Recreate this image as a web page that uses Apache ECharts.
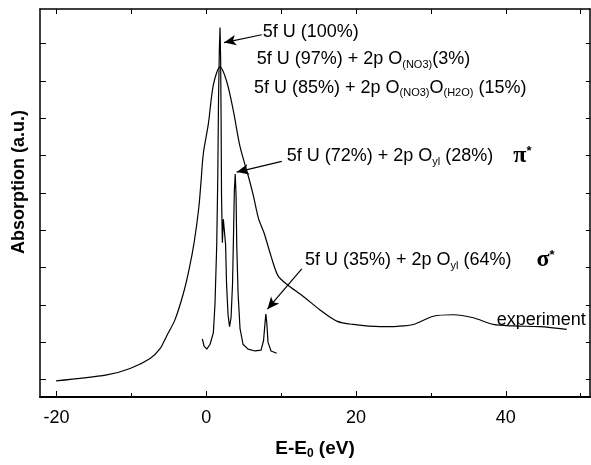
<!DOCTYPE html>
<html>
<head>
<meta charset="utf-8">
<script src="https://cdn.jsdelivr.net/npm/echarts@6/dist/echarts.min.js"></script>
<style>
html,body{margin:0;padding:0;background:#fff;}
#c{width:591px;height:465px;}
</style>
</head>
<body>
<div id="c"></div>
<script>
// ---- data ----
const expX = [-20.05, -13.28, -10.17, -7.50, -6.17, -5.27, -4.17, -3.06, -2.30, -1.60, -1.00, -0.70, -0.39, 0.28, 0.95, 1.84, 2.74, 3.62, 4.51, 5.62, 6.29, 6.96, 7.72, 8.65, 9.59, 10.79, 12.96, 15.19, 17.42, 19.64, 23.20, 25.50, 27.65, 30.32, 32.99, 35.66, 38.33, 41.00, 44.57, 48.13];
const expY = [-0.03, 0.13, 0.30, 0.57, 0.83, 1.18, 1.61, 2.31, 2.95, 3.70, 4.60, 5.30, 6.06, 6.85, 7.90, 8.38, 7.98, 7.20, 6.24, 5.45, 4.93, 4.33, 3.93, 3.31, 2.78, 2.55, 2.23, 1.87, 1.57, 1.48, 1.42, 1.43, 1.48, 1.70, 1.74, 1.66, 1.48, 1.44, 1.42, 1.35];

const thX = [-0.52, -0.29, 0.07, 0.51, 0.95, 1.17, 1.40, 1.54, 1.64, 1.75, 1.84, 1.92, 1.98, 2.04, 2.15, 2.28, 2.48, 2.58, 2.71, 2.91, 3.11, 3.31, 3.51, 3.64, 3.75, 3.87, 3.98, 4.07, 4.25, 4.51, 4.91, 5.58, 6.51, 7.32, 7.65, 7.85, 7.96, 8.08, 8.25, 8.65, 9.41];
const thY = [1.09, 0.90, 0.82, 0.95, 1.26, 2.05, 3.62, 5.45, 7.55, 8.86, 9.43, 8.59, 7.02, 4.93, 3.67, 4.30, 4.30, 3.62, 2.57, 1.74, 1.42, 1.66, 2.57, 3.88, 5.06, 5.51, 4.93, 3.62, 2.31, 1.37, 0.95, 0.82, 0.77, 0.79, 1.05, 1.53, 1.76, 1.53, 1.00, 0.77, 0.71];

const xMajorTicks = [-20, 0, 20, 40];
const xMinorTicks = [-10, 10, 30, 50];
const yTicks = [0, 1, 2, 3, 4, 5, 6, 7, 8, 9];

// arrows: [from, to] in data units
const arrowFrom = [[7.41, 9.24], [10.08, 5.85], [12.75, 2.97]];
const arrowTo   = [[2.38, 9.03], [4.07, 5.56], [8.16, 1.89]];

// ---- chart ----
const FONT = "'Liberation Sans', Arial, sans-serif";
const X_MIN = -22.2, X_MAX = 51.24, Y_MIN = -0.463, Y_MAX = 9.929;

const chart = echarts.init(document.getElementById('c'), null, {renderer: 'canvas'});

const pairs = (xs, ys) => xs.map((x, i) => [x, ys[i]]);

const baseRich = {
  a: {fontSize: 18, fontFamily: FONT, color: '#000', lineHeight: 22},
  s: {fontSize: 11, fontFamily: FONT, color: '#000', verticalAlign: 'bottom', lineHeight: 10},
  g: {fontSize: 24, fontFamily: "'Liberation Serif', serif", fontWeight: 'bold', color: '#000', lineHeight: 22},
  p: {fontSize: 13, fontFamily: FONT, fontWeight: 'bold', color: '#000', verticalAlign: 'top', lineHeight: 8}
};

function txt(x, y, text) {
  return {
    type: 'text', x: x, y: y, silent: true,
    style: {text: text, rich: baseRich, align: 'left', verticalAlign: 'middle', fill: '#000', font: '18px ' + FONT}
  };
}

const plainAxis = {
  type: 'value', min: X_MIN, max: X_MAX,
  splitLine: {show: false}, axisLabel: {show: false}
};

chart.setOption({
  animation: false,
  backgroundColor: '#fff',
  grid: {left: 40, right: 1, top: 9, bottom: 59, containLabel: false},
  xAxis: [
    {
      type: 'value', position: 'bottom', min: X_MIN, max: X_MAX,
      axisLine: {show: true, onZero: false, lineStyle: {color: '#000', width: 2}},
      axisTick: {show: true, inside: true, length: 6, customValues: xMajorTicks, lineStyle: {color: '#000', width: 1}},
      axisLabel: {show: true, customValues: xMajorTicks, color: '#000', fontSize: 18, fontFamily: FONT, margin: 12},
      splitLine: {show: false},
      name: '{b|E-E}{s|0}{b| (eV)}',
      nameLocation: 'middle', nameGap: 41,
      nameTextStyle: {
        rich: {
          b: {fontSize: 19, fontWeight: 'bold', fontFamily: FONT, color: '#000', lineHeight: 22},
          s: {fontSize: 12, fontWeight: 'bold', fontFamily: FONT, color: '#000', verticalAlign: 'bottom', lineHeight: 10}
        }
      }
    },
    Object.assign({}, plainAxis, {
      position: 'bottom',
      axisLine: {show: false, onZero: false},
      axisTick: {show: true, inside: true, length: 4, customValues: xMinorTicks, lineStyle: {color: '#000', width: 1}}
    }),
    Object.assign({}, plainAxis, {
      position: 'top',
      axisLine: {show: true, onZero: false, lineStyle: {color: '#000', width: 1.5}},
      axisTick: {show: true, inside: true, length: 5, customValues: xMajorTicks.concat(xMinorTicks), lineStyle: {color: '#000', width: 1}}
    })
  ],
  yAxis: [
    {
      type: 'value', position: 'left', min: Y_MIN, max: Y_MAX,
      axisLine: {show: true, onZero: false, lineStyle: {color: '#000', width: 1.5}},
      axisTick: {show: true, inside: true, length: 6, customValues: yTicks, lineStyle: {color: '#000', width: 1}},
      axisLabel: {show: false}, splitLine: {show: false}
    },
    {
      type: 'value', position: 'right', min: Y_MIN, max: Y_MAX,
      axisLine: {show: true, onZero: false, lineStyle: {color: '#000', width: 1.5}},
      axisTick: {show: true, inside: true, length: 4, customValues: yTicks, lineStyle: {color: '#000', width: 1}},
      axisLabel: {show: false}, splitLine: {show: false}
    }
  ],
  series: [
    {
      name: 'experiment', type: 'line', xAxisIndex: 0, yAxisIndex: 0,
      data: pairs(expX, expY), showSymbol: false, smooth: 0.3,
      lineStyle: {color: '#000', width: 1.2}, silent: true
    },
    {
      name: 'theory', type: 'line', xAxisIndex: 0, yAxisIndex: 0,
      data: pairs(thX, thY), showSymbol: false, smooth: false,
      lineStyle: {color: '#000', width: 1.2}, silent: true,
      markLine: {
        silent: true, animation: false,
        symbol: ['none', 'arrow'], symbolSize: 11,
        lineStyle: {type: 'solid', color: '#000', width: 1.2},
        itemStyle: {color: '#000'},
        label: {show: false}, emphasis: {disabled: true},
        data: arrowFrom.map((f, i) => [
          {coord: f, symbol: 'none'},
          {coord: arrowTo[i], symbol: 'arrow', symbolSize: [8, 12]}
        ])
      }
    }
  ],
  graphic: [
    {
      type: 'text', x: 19, y: 182, rotation: Math.PI / 2, silent: true,
      style: {text: 'Absorption (a.u.)', align: 'center', verticalAlign: 'middle', fill: '#000', font: 'bold 18px ' + FONT}
    },
    txt(262.7, 31.7, '{a|5f U (100%)}'),
    txt(256.7, 59.3, '{a|5f U (97%) + 2p O}{s|(NO3)}{a|(3%)}'),
    txt(254, 87.7, '{a|5f U (85%) + 2p O}{s|(NO3)}{a|O}{s|(H2O)}{a| (15%)}'),
    txt(286.7, 156, '{a|5f U (72%) + 2p O}{s|yl}{a| (28%)    }{g|π}{p|*}'),
    txt(305, 260, '{a|5f U (35%) + 2p O}{s|yl}{a| (64%)     }{g|σ}{p|*}'),
    txt(496.7, 320, '{a|experiment}')
  ]
});
</script>
</body>
</html>
